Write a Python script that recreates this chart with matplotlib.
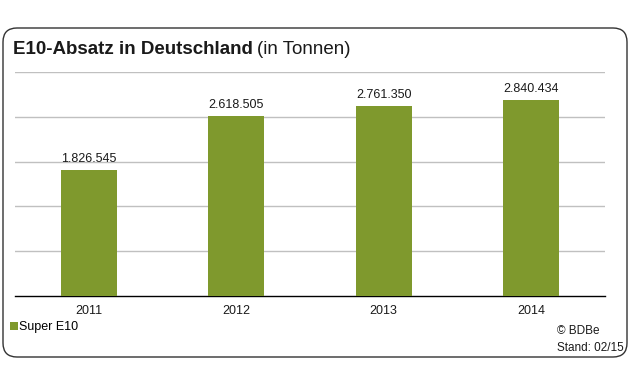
import matplotlib.pyplot as plt
from matplotlib.patches import FancyBboxPatch

years = ["2011", "2012", "2013", "2014"]
absatz = [1826545, 2618505, 2761350, 2840434]
value_labels = ["1.826.545", "2.618.505", "2.761.350", "2.840.434"]

W, H = 630, 367
plt.rcParams['font.family'] = ['Liberation Sans', 'DejaVu Sans']

fig = plt.figure(figsize=(W / 100, H / 100), dpi=100)
fig.patch.set_facecolor("white")

# rounded outer frame
frame = FancyBboxPatch((0.15, 0.22), 6.0, 3.05, boxstyle="round,pad=0.12,rounding_size=0.14",
                       transform=fig.dpi_scale_trans, facecolor="none",
                       edgecolor="#333333", linewidth=1.0, zorder=-1)
fig.patches.append(frame)

ax = fig.add_axes([15 / W, 1 - 296 / H, 590 / W, 224 / H])
ax.set_facecolor("none")

x = range(len(years))
bars = ax.bar(x, absatz, width=0.38, color="#7f992d", zorder=3, label="Super E10")

ax.set_xlim(-0.5, 3.5)
ax.set_ylim(0, 3250000)
ax.set_yticks([650000 * i for i in range(1, 6)])
ax.yaxis.grid(True, color="#c0c0c0", linewidth=1.0, zorder=0)
ax.tick_params(axis="y", left=False, labelleft=False)
ax.set_xticks(list(x))
ax.set_xticklabels(years, fontsize=9, color="#1a1a1a")
ax.tick_params(axis="x", length=0, pad=6.5)
for s in ["top", "right", "left"]:
    ax.spines[s].set_visible(False)
ax.spines["bottom"].set_color("black")
ax.spines["bottom"].set_linewidth(1.0)

for xi, v, lab in zip(x, absatz, value_labels):
    ax.annotate(lab, (xi, v), xytext=(0, 3.5), textcoords="offset points",
                ha="center", va="bottom", fontsize=9, color="#1a1a1a")

# title in two parts
t1 = fig.text(13 / W, 1 - 54 / H, "E10-Absatz in Deutschland", fontsize=13.5,
              fontweight="bold", color="#1a1a1a", va="baseline", ha="left")
renderer = fig.canvas.get_renderer()
bb = t1.get_window_extent(renderer)
fig.text(bb.x1 / W + 4 / W, 1 - 54 / H, "(in Tonnen)", fontsize=13.5,
         color="#1a1a1a", va="baseline", ha="left")

fig.legend(handles=[bars], labels=["Super E10"], loc="center left",
           bbox_to_anchor=(10 / W, 1 - 327 / H), frameon=False, fontsize=9,
           handlelength=0.6, handleheight=0.6, handletextpad=0.15,
           borderaxespad=0, borderpad=0)

fig.text(557 / W, 1 - 331 / H, "© BDBe", fontsize=8.5, color="#1a1a1a", va="center")
fig.text(557 / W, 1 - 348 / H, "Stand: 02/15", fontsize=8.5, color="#1a1a1a", va="center")

fig.savefig("out.png", dpi=100, facecolor="white")
